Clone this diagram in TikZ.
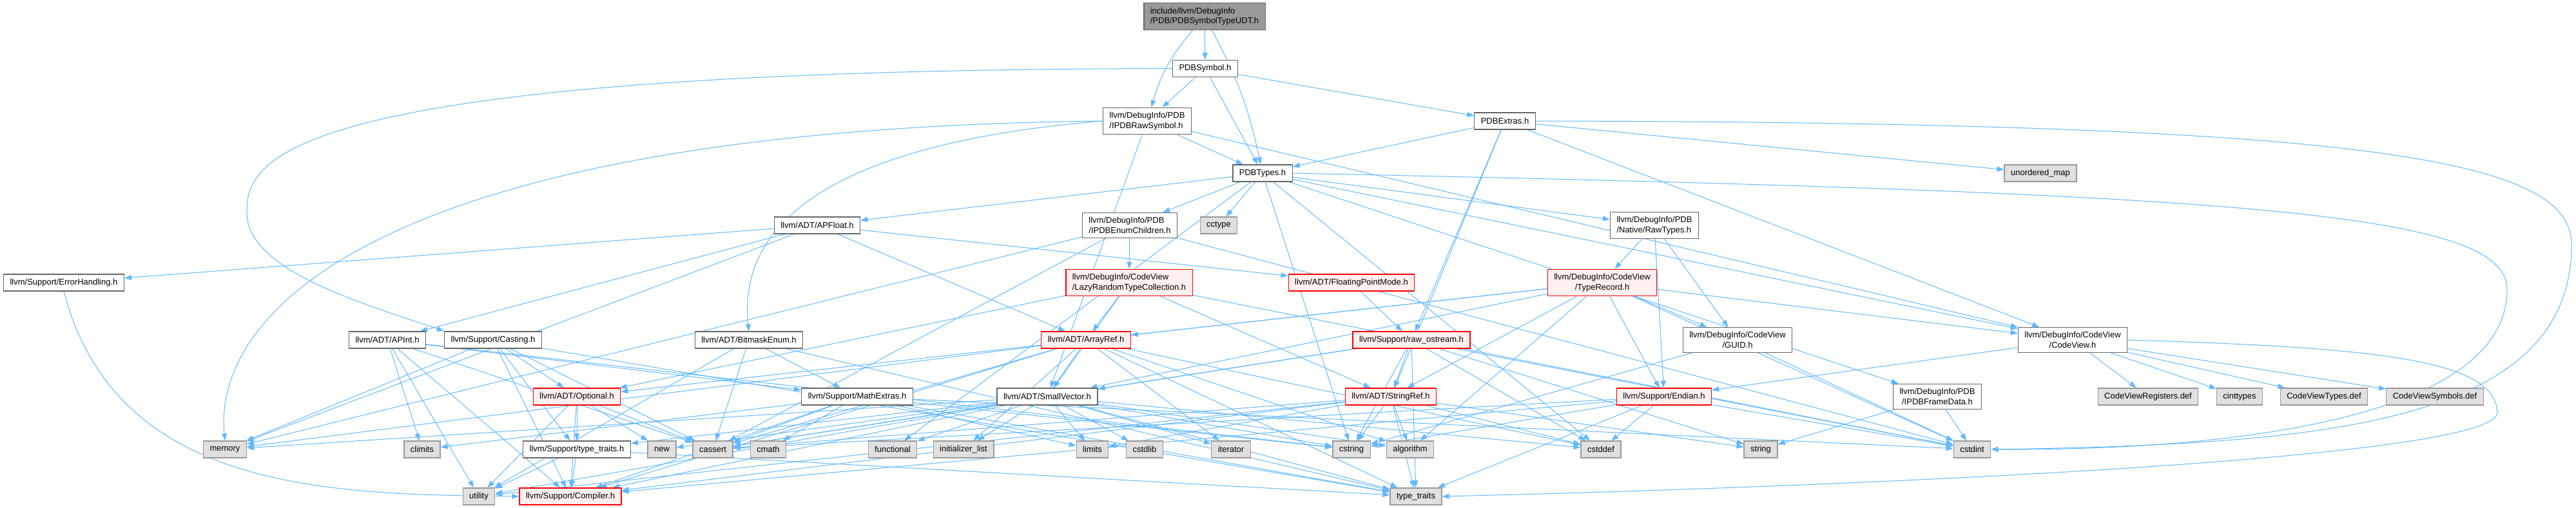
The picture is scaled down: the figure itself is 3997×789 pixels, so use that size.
\documentclass[tikz,border=0pt]{standalone}
\usepackage{fontspec}
\setmainfont{Liberation Sans}
\usetikzlibrary{arrows.meta}

\pgfdeclarelayer{bg}
\pgfsetlayers{bg,main}

\definecolor{edgeblue}{HTML}{63B8FF}
\definecolor{boxline}{HTML}{666666}
\definecolor{sysfill}{HTML}{E0E0E0}
\definecolor{sysline}{HTML}{999999}
\definecolor{trunfill}{HTML}{FFF0F0}
\definecolor{rootfill}{HTML}{999999}

\begin{document}
\begin{tikzpicture}[x=1pt, y=-1pt,
    file/.style={draw=boxline, fill=white, line width=1.3pt, align=center,
      font=\fontsize{13}{15.5}\selectfont, inner xsep=10pt, inner ysep=7pt,
      minimum height=26pt},
    sys/.style={file, draw=sysline, fill=sysfill},
    trunc/.style={file, draw=red, fill=trunfill},
    rootbox/.style={file, fill=rootfill},
    dep/.style={-{Triangle[length=11pt,width=8pt]}, draw=edgeblue, line width=1pt}]

    % picture frame, in pixels of the reference
    \useasboundingbox (0,0) rectangle (3997,789);

    % --- Headers of the PDB library ---
    \node[rootbox, align=left] (root) at (1869,25.5) {include/llvm/DebugInfo\\/PDB/PDBSymbolTypeUDT.h};
    \node[file] (sym) at (1870,106.5) {PDBSymbol.h};
    \node[file, align=left] (raw) at (1780,188) {llvm/DebugInfo/PDB\\/IPDBRawSymbol.h};
    \node[file] (extras) at (2335,188) {PDBExtras.h};
    \node[file] (types) at (1959,269) {PDBTypes.h};
    \node[file, align=left] (enumch) at (1753,350) {llvm/DebugInfo/PDB\\/IPDBEnumChildren.h};
    \node[file, align=left] (rawtypes) at (2567,350) {llvm/DebugInfo/PDB\\/Native/RawTypes.h};
    \node[file] (framedata) at (3006,616) {llvm/DebugInfo/PDB\\/IPDBFrameData.h};

    % --- CodeView headers ---
    \node[trunc, align=left] (lazy) at (1752,439) {llvm/DebugInfo/CodeView\\/LazyRandomTypeCollection.h};
    \node[trunc] (typerec) at (2486,439) {llvm/DebugInfo/CodeView\\/TypeRecord.h};
    \node[file] (guid) at (2696,528) {llvm/DebugInfo/CodeView\\/GUID.h};
    \node[file] (codeview) at (3216,528) {llvm/DebugInfo/CodeView\\/CodeView.h};

    % --- ADT and Support headers ---
    \node[file] (apfloat) at (1268,350) {llvm/ADT/APFloat.h};
    \node[file] (errh) at (99,439) {llvm/Support/ErrorHandling.h};
    \node[trunc] (fpmode) at (2097,439) {llvm/ADT/FloatingPointMode.h};
    \node[file] (apint) at (601,528) {llvm/ADT/APInt.h};
    \node[file] (casting) at (765,528) {llvm/Support/Casting.h};
    \node[file] (bitmask) at (1162,528) {llvm/ADT/BitmaskEnum.h};
    \node[trunc] (arrayref) at (1685,528) {llvm/ADT/ArrayRef.h};
    \node[trunc] (rawos) at (2190,528) {llvm/Support/raw\_ostream.h};
    \node[trunc] (optional) at (895,616) {llvm/ADT/Optional.h};
    \node[file] (mathext) at (1330,616) {llvm/Support/MathExtras.h};
    \node[file] (smallvec) at (1625,616) {llvm/ADT/SmallVector.h};
    \node[trunc] (stringref) at (2158,616) {llvm/ADT/StringRef.h};
    \node[trunc] (endian) at (2582,616) {llvm/Support/Endian.h};
    \node[file] (typetraitsh) at (895,698) {llvm/Support/type\_traits.h};
    \node[trunc] (compiler) at (885,771) {llvm/Support/Compiler.h};

    % --- System headers and .def files ---
    \node[sys] (umap) at (3166,269) {unordered\_map};
    \node[sys] (cctype) at (1891,350) {cctype};
    \node[sys] (cvregs) at (3333,616) {CodeViewRegisters.def};
    \node[sys] (cinttypes) at (3475,616) {cinttypes};
    \node[sys] (cvtypes) at (3606,616) {CodeViewTypes.def};
    \node[sys] (cvsyms) at (3778,616) {CodeViewSymbols.def};
    \node[sys] (memory) at (349,698) {memory};
    \node[sys] (climits) at (655,698) {climits};
    \node[sys] (new) at (1027,698) {new};
    \node[sys] (cassert) at (1106,698) {cassert};
    \node[sys] (cmath) at (1192,698) {cmath};
    \node[sys] (functional) at (1385,698) {functional};
    \node[sys] (initlist) at (1495,698) {initializer\_list};
    \node[sys] (limits) at (1695,698) {limits};
    \node[sys] (cstdlib) at (1776,698) {cstdlib};
    \node[sys] (iterator) at (1910,698) {iterator};
    \node[sys] (cstring) at (2097,698) {cstring};
    \node[sys] (algorithm) at (2188,698) {algorithm};
    \node[sys] (cstddef) at (2484,698) {cstddef};
    \node[sys] (string) at (2732,698) {string};
    \node[sys] (cstdint) at (3060,698) {cstdint};
    \node[sys] (utility) at (743,771) {utility};
    \node[sys] (typetraits) at (2197,771) {type\_traits};

    % --- Include edges (behind the boxes) ---
    \begin{pgfonlayer}{bg}
    \foreach \a/\b in {root/sym,
        sym/raw, sym/extras, sym/types,
        raw/types, raw/smallvec, raw/codeview,
        extras/types, extras/codeview, extras/rawos, extras/stringref, extras/umap,
        types/apfloat, types/enumch, types/cctype, types/rawtypes, types/codeview,
        types/framedata, types/cstddef, types/cstring, types/functional,
        apfloat/apint, apfloat/arrayref, apfloat/fpmode, apfloat/errh, apfloat/memory,
        enumch/lazy, enumch/cassert, enumch/memory, enumch/cstdint,
        rawtypes/guid, rawtypes/typerec, rawtypes/endian,
        lazy/arrayref, lazy/optional, lazy/smallvec, lazy/stringref, lazy/cstdint,
        fpmode/rawos,
        typerec/arrayref, typerec/optional, typerec/smallvec, typerec/stringref,
        typerec/codeview, typerec/guid, typerec/endian, typerec/algorithm, typerec/cstdint,
        apint/compiler, apint/mathext, apint/cassert, apint/climits, apint/cstring, apint/utility,
        casting/optional, casting/compiler, casting/typetraitsh, casting/cassert,
        casting/memory, casting/typetraits,
        bitmask/mathext, bitmask/cassert, bitmask/typetraits, bitmask/utility,
        arrayref/smallvec, arrayref/compiler, arrayref/algorithm, arrayref/cassert,
        arrayref/cstddef, arrayref/initlist, arrayref/iterator, arrayref/memory, arrayref/typetraits,
        rawos/smallvec, rawos/stringref, rawos/cassert, rawos/cstddef, rawos/cstdint,
        rawos/cstring, rawos/string, rawos/typetraits,
        guid/cstdint, guid/cstring,
        codeview/endian, codeview/cvregs, codeview/cinttypes, codeview/cvtypes, codeview/cvsyms,
        optional/compiler, optional/typetraitsh, optional/cassert, optional/new, optional/utility,
        mathext/compiler, mathext/cassert, mathext/climits, mathext/cmath, mathext/cstdint,
        mathext/cstring, mathext/limits, mathext/typetraits,
        smallvec/compiler, smallvec/typetraitsh, smallvec/algorithm, smallvec/cassert,
        smallvec/cstddef, smallvec/cstdlib, smallvec/cstring, smallvec/functional,
        smallvec/initlist, smallvec/iterator, smallvec/limits, smallvec/memory, smallvec/new,
        smallvec/typetraits, smallvec/utility,
        stringref/compiler, stringref/algorithm, stringref/cassert, stringref/cstddef,
        stringref/cstring, stringref/limits, stringref/string, stringref/typetraits, stringref/utility,
        endian/compiler, endian/cassert, endian/cstddef, endian/cstdint, endian/cstring,
        endian/typetraits,
        framedata/cstdint, framedata/string,
        typetraitsh/compiler, typetraitsh/typetraits, typetraitsh/utility}
      \draw[dep] (\a) -- (\b);

    % bowed and long detours
    \draw[dep] (root) to[bend right=12] (raw);
    \draw[dep] (root) to[bend left=8] (types);
    \draw[dep] (sym.west) .. controls (420,108) and (383,250) .. (383,330)
        .. controls (383,420) and (560,470) .. (casting.north west);
    \draw[dep] (raw.west) .. controls (600,200) and (330,480) .. (memory.north);
    \draw[dep] (raw.west) .. controls (1200,230) and (1150,400) .. (bitmask.north);
    \draw[dep] (extras.east) .. controls (3700,190) and (3990,250) .. (3990,380)
        .. controls (3990,660) and (3600,690) .. (cstdint.east);
    \draw[dep] (types.east) .. controls (3500,300) and (3890,330) .. (3890,450)
        .. controls (3890,640) and (3500,700) .. (cstdint.east);
    \draw[dep] (codeview.east) .. controls (3700,540) and (3870,560) .. (3875,640)
        .. controls (3880,720) and (2700,760) .. (typetraits.east);
    \draw[dep] (errh.south) .. controls (180,760) and (500,768) .. (compiler.west);
    \end{pgfonlayer}

\end{tikzpicture}
\end{document}
